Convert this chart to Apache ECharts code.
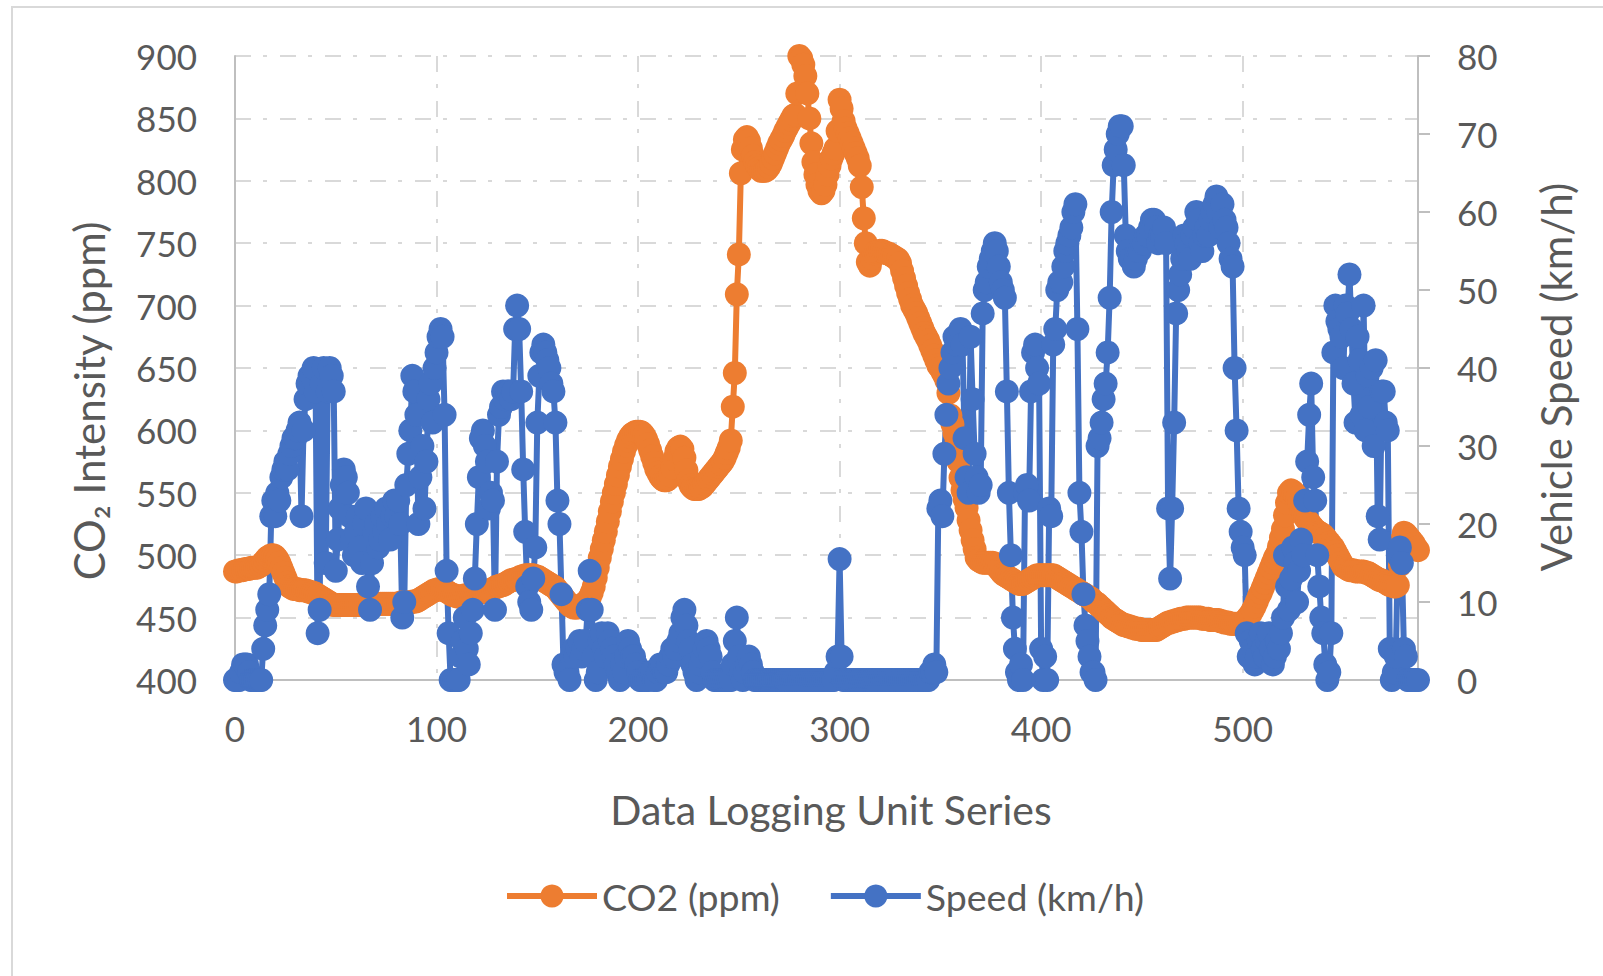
<!DOCTYPE html>
<html><head><meta charset="utf-8">
<script src="https://cdn.jsdelivr.net/npm/echarts@6/dist/echarts.min.js"></script>
<style>html,body{margin:0;padding:0;background:#fff}#c{width:1603px;height:976px}</style>
</head><body><div id="c"></div>
<script>
// CO2 intensity (ppm) for logging units 0..587
const co2 = [
487,487,488,488,488,489,489,489,490,490,
490,490,491,492,494,496,498,499,500,500,
499,497,494,490,486,482,478,475,474,473,
473,473,472,472,472,472,471,471,470,470,
469,468,467,466,465,464,463,462,461,460,
460,460,460,460,460,460,460,460,460,460,
460,460,460,460,460,460,460,460,461,461,
461,461,461,461,461,461,461,461,461,461,
461,461,462,462,462,462,462,462,463,463,
463,464,465,466,467,468,469,470,471,472,
472,473,473,473,472,471,470,469,468,468,
467,467,467,467,468,468,468,469,469,469,
470,470,470,471,471,471,472,472,473,474,
475,475,476,476,477,478,479,480,480,481,
481,482,483,483,484,484,484,484,484,483,
483,482,481,480,479,478,477,476,475,474,
472,470,468,466,464,462,460,459,458,458,
458,459,460,461,462,464,466,470,475,482,
490,498,505,512,519,527,535,543,550,557,
564,571,577,583,588,592,595,597,598,599,
599,599,598,596,593,589,584,579,574,569,
566,563,561,560,560,561,564,570,577,583,
586,587,585,578,568,560,556,554,553,553,
553,554,555,557,559,561,563,565,567,569,
571,573,575,578,582,586,592,619,646,709,
741,806,825,833,835,832,826,820,815,812,
810,808,808,808,809,811,814,818,822,826,
830,833,836,840,843,846,849,852,853,870,
900,898,893,884,870,850,830,815,805,797,
792,790,792,797,805,812,818,822,826,840,
865,858,848,842,838,834,830,826,822,818,
812,795,770,750,735,732,738,742,743,743,
744,744,743,742,742,741,740,739,738,737,
734,728,722,716,710,705,700,697,694,690,
686,682,678,675,672,668,664,660,656,652,
650,647,644,640,630,612,605,598,590,575,
562,552,545,538,528,520,512,505,498,496,
495,494,494,494,494,494,494,493,491,489,
487,485,484,483,482,481,480,479,478,477,
477,477,478,479,480,481,482,483,484,484,
484,484,484,484,484,484,484,483,482,481,
480,479,478,477,476,475,474,473,472,471,
470,469,468,467,466,465,463,462,461,459,
458,456,455,453,452,450,449,448,447,446,
445,444,444,443,443,442,442,441,441,441,
440,440,440,440,440,440,440,440,441,442,
443,444,445,446,446,447,447,448,448,449,
449,449,450,450,450,450,450,450,450,450,
449,449,449,449,448,448,448,448,448,447,
447,446,446,446,445,445,445,445,445,445,
446,447,449,451,453,456,459,463,467,470,
474,478,482,486,490,494,498,501,507,514,
521,532,542,550,552,551,549,546,542,537,
533,530,528,526,524,522,520,519,518,517,
516,514,512,510,508,506,503,500,497,494,
491,490,489,488,488,488,487,487,487,487,
487,486,486,485,484,483,482,481,480,480,
479,478,477,476,476,475,475,476,492,512,
518,517,515,513,511,509,506,504
];
// Vehicle speed (km/h) for logging units 0..587
const speed = [
0,0,0,1,2,2,2,1,0,0,
0,0,0,0,4,7,9,11,21,23,
21,24,23,26,27,28,27,29,30,31,
31,32,33,21,32,36,38,39,39,40,
37,6,9,38,40,15,37,40,39,37,
14,18,22,25,27,26,24,21,18,16,
19,21,17,15,20,22,12,9,15,19,
20,17,18,21,19,22,20,18,21,23,
21,23,20,8,10,25,29,32,39,37,
34,20,26,30,22,28,36,38,33,40,
42,44,45,44,34,14,6,0,0,0,
0,0,3,5,8,4,2,6,9,13,
20,26,31,32,30,28,22,24,23,9,
28,34,35,37,36,37,37,36,37,45,
48,45,37,27,19,12,10,9,13,17,
33,39,42,43,42,41,40,38,37,33,
23,20,11,2,1,1,0,3,4,3,
4,5,3,4,5,9,14,9,3,0,
1,5,6,4,3,6,5,4,3,2,
1,0,2,1,3,5,4,3,3,2,
1,0,0,0,0,0,1,1,0,0,
1,2,2,1,1,2,3,4,3,4,
5,6,8,9,7,5,4,2,1,0,
1,2,3,4,5,4,3,1,0,0,
0,0,0,0,0,0,0,2,5,8,
3,1,0,1,2,3,2,1,0,0,
0,0,0,0,0,0,0,0,0,0,
0,0,0,0,0,0,0,0,0,0,
0,0,0,0,0,0,0,0,0,0,
0,0,0,0,0,0,0,0,1,3,
15.5,3,0,0,0,0,0,0,0,0,
0,0,0,0,0,0,0,0,0,0,
0,0,0,0,0,0,0,0,0,0,
0,0,0,0,0,0,0,0,0,0,
0,0,0,0,0,1,1,2,1,22,
23,21,29,34,38,40,42,44,43,44,
45,43,31,26,24,44,36,29,26,24,
25,47,50,51,53,54,55,56,55,53,
51,50,49,37,24,16,8,4,1,0,
2,0,24,25,23,37,42,43,40,38,
4,0,3,0,22,21,43,45,50,51,
51,53,55,56,57,58,60,61,45,24,
19,11,7,5,3,1,1,0,30,31,
33,36,38,42,49,60,66,68,70,71,
71,66,57,55,54,54,53,54,55,55,
56,56,57,57,58,59,59,58,56,57,
57,58,56,22,13,22,33,47,50,52,
54,57,56,55,54,57,58,60,59,56,
55,57,58,57,59,60,61,62,60,58,
61,59,58,56,54,53,40,32,22,19,
17,16,6,3,5,4,2,3,5,6,
4,3,5,6,4,2,3,5,4,6,
8,16,12,9,13,17,15,10,14,18,
16,23,28,34,38,26,23,16,12,8,
6,2,0,1,6,42,48,46,45,44,
40,48,47,52,45,38,33,44,41,34,
48,32,39,35,40,30,41,21,18,37,
37,33,32,4,0,1,3,16,17,15,
4,3,0,0,0,0,0,0
];
const seriesNames = ['CO2 (ppm)', 'Speed (km/h)'];
const xRange = [0, 587, 100];
const co2Range = [400, 900, 50];
const speedRange = [0, 80, 10];

const FONT = "Lato, 'Open Sans', 'Noto Sans', sans-serif";
const TXT = '#595959';
const AX = '#bfbfbf';
const dashed = { type: [16, 12, 4, 13], color: '#d9d9d9', width: 2 };

const chart = echarts.init(document.getElementById('c'), null, { renderer: 'svg' });
chart.setOption({
  animation: false,
  backgroundColor: '#fff',
  grid: { left: 235, right: 185, top: 56, bottom: 296 },
  graphic: [{ type: 'rect', silent: true, shape: { x: 12, y: 7, width: 1700, height: 1100 },
    style: { fill: 'none', stroke: '#d9d9d9', lineWidth: 2 } }],
  legend: {
    data: seriesNames, left: 499, top: 872, itemWidth: 90, itemHeight: 29, itemGap: 48,
    lineStyle: { width: 6 },
    textStyle: { fontFamily: FONT, fontSize: 37.5, color: TXT }
  },
  xAxis: {
    type: 'value', min: xRange[0], max: xRange[1], interval: xRange[2],
    name: 'Data Logging Unit Series', nameLocation: 'middle', nameGap: 109,
    nameTextStyle: { fontFamily: FONT, fontSize: 41, color: TXT, padding: [0, 0, 0, 9] },
    axisLine: { show: true, lineStyle: { color: AX, width: 2 } },
    axisTick: { show: false },
    axisLabel: { fontFamily: FONT, fontSize: 35, color: TXT, margin: 30, showMaxLabel: false },
    splitLine: { show: true, showMinLine: false, showMaxLine: false, lineStyle: dashed }
  },
  yAxis: [{
    type: 'value', min: co2Range[0], max: co2Range[1], interval: co2Range[2], position: 'left',
    name: 'CO₂ Intensity (ppm)', nameLocation: 'middle', nameGap: 125,
    nameTextStyle: { fontFamily: FONT, fontSize: 42, color: TXT, padding: [0, 66, 0, 0] },
    axisLine: { show: true, lineStyle: { color: AX, width: 2 } },
    axisTick: { show: false },
    axisLabel: { fontFamily: FONT, fontSize: 35, color: TXT, margin: 38 },
    splitLine: { show: true, showMinLine: false, lineStyle: dashed }
  }, {
    type: 'value', min: speedRange[0], max: speedRange[1], interval: speedRange[2], position: 'right',
    name: 'Vehicle Speed (km/h)', nameLocation: 'middle', nameGap: 117,
    nameTextStyle: { fontFamily: FONT, fontSize: 42, color: TXT, padding: [0, 18, 0, 0] },
    axisLine: { show: true, lineStyle: { color: AX, width: 2 } },
    axisTick: { show: true, length: 12, lineStyle: { color: AX, width: 2 } },
    axisLabel: { fontFamily: FONT, fontSize: 35, color: TXT, margin: 39 },
    splitLine: { show: false }
  }],
  series: [{
    name: seriesNames[0], type: 'line', yAxisIndex: 0, clip: false,
    data: co2.map((v, i) => [i, v]),
    symbol: 'circle', symbolSize: 24, showAllSymbol: true,
    lineStyle: { color: '#ED7D31', width: 6 }, itemStyle: { color: '#ED7D31' },
    emphasis: { disabled: true }
  }, {
    name: seriesNames[1], type: 'line', yAxisIndex: 1, clip: false,
    data: speed.map((v, i) => [i, v]),
    symbol: 'circle', symbolSize: 24, showAllSymbol: true,
    lineStyle: { color: '#4472C4', width: 6 }, itemStyle: { color: '#4472C4' },
    emphasis: { disabled: true }
  }]
});
</script></body></html>
